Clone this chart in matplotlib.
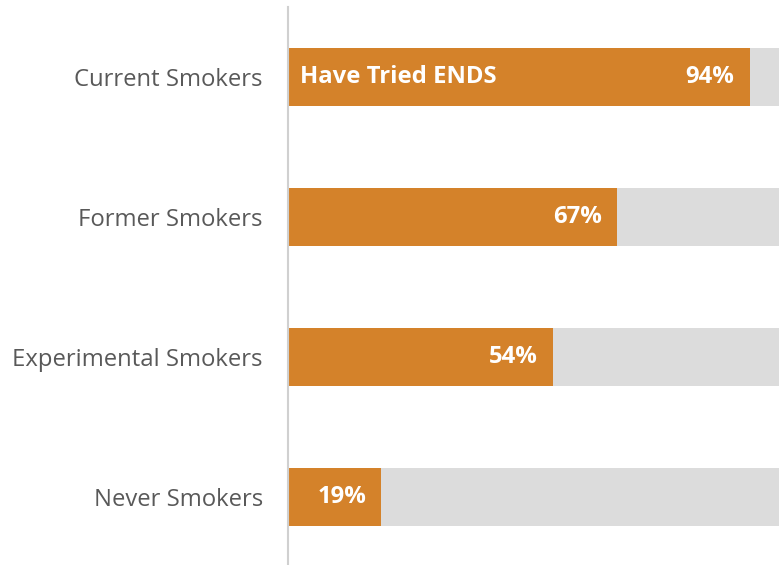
import matplotlib.pyplot as plt

# share of each smoking group that has tried ENDS
groups = ["Current Smokers", "Former Smokers", "Experimental Smokers", "Never Smokers"]
tried = [94, 67, 54, 19]
series_label = "Have Tried ENDS"

orange = "#D4822A"
track = "#DCDCDC"

plt.rcParams["font.family"] = ["Open Sans", "DejaVu Sans"]

fig = plt.figure(figsize=(7.79, 5.65), dpi=100)
W, H = 779, 565
ax = fig.add_axes([288 / W, 0, (779 - 288) / W, (565 - 7) / H])

pos = list(range(len(groups)))
# grey track to 100%, orange share on top
ax.barh(pos, [100] * len(groups), height=0.41, color=track, zorder=1)
ax.barh(pos, tried, height=0.41, color=orange, zorder=2)

for p, v in zip(pos, tried):
    ax.text(v - 3.1, p, f"{v}%", ha="right", va="center", color="white",
            fontsize=17.2, fontweight="bold", zorder=3)
ax.text(2.5, 0, series_label, ha="left", va="center", color="white",
        fontsize=17.2, fontweight="bold", zorder=3)

ax.set_xlim(0, 100)
ax.set_ylim(3.486, -0.5)
ax.set_yticks(pos)
ax.set_yticklabels(groups, fontsize=17.2, color="#595959")
ax.tick_params(axis="y", length=0, pad=18)
ax.set_xticks([])

for s in ["top", "right", "bottom"]:
    ax.spines[s].set_visible(False)
ax.spines["left"].set_color("#D0D0D0")
ax.spines["left"].set_linewidth(1.5)

fig.savefig("out.png", dpi=100)
